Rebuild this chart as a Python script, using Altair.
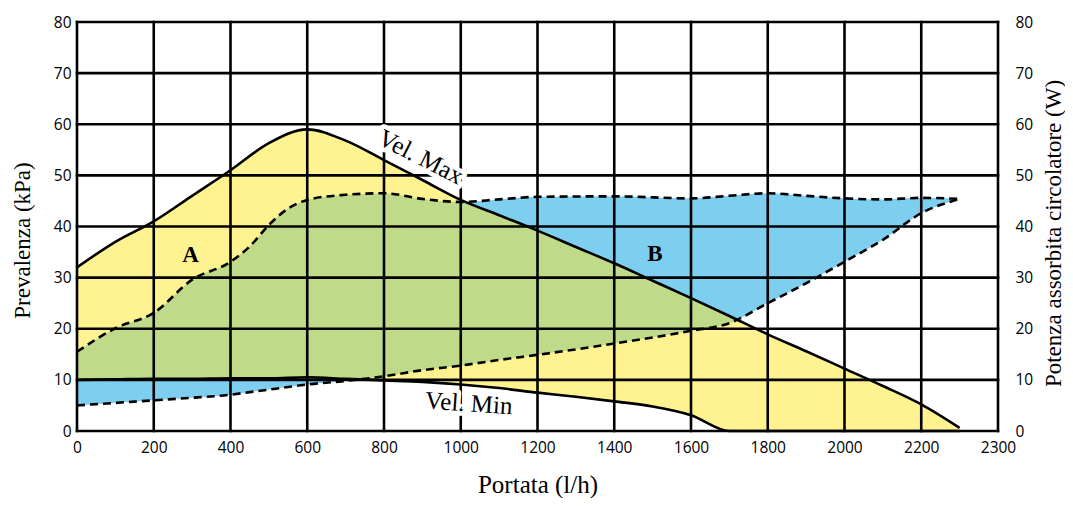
import altair as alt
import pandas as pd

# ---- data ----
# pressure curves (kPa, left axis)
p_flow = [0, 100, 200, 300, 400, 500, 600, 700, 800, 900, 1000, 1100, 1200, 1300,
          1400, 1500, 1600, 1700, 1800, 1900, 2000, 2100, 2200, 2250]
vel_max = [32.0, 37.0, 41.0, 46.0, 51.0, 56.3, 59.0, 56.8, 53.0, 49.1, 45.2, 42.2, 39.2, 36.0,
           32.8, 29.4, 26.0, 22.5, 18.9, 15.6, 12.2, 8.8, 5.2, 0.6]
vel_min = [10.0, 10.1, 10.2, 10.2, 10.3, 10.3, 10.5, 10.2, 9.9, 9.6, 9.1, 8.4, 7.5, 6.7,
           5.8, 4.8, 3.1, 0.0, 0.0, 0.0, 0.0, 0.0, 0.0, 0.0]

# absorbed power curves (W, right axis)
w_flow = [0, 100, 200, 300, 400, 450, 500, 550, 600, 700, 800, 900, 1000, 1100, 1200,
          1400, 1600, 1700, 1800, 1900, 2000, 2100, 2200, 2250]
w_max = [15.5, 20.1, 23.1, 29.6, 33.1, 36.1, 40.3, 43.5, 45.2, 46.2, 46.5, 45.4, 44.8, 45.3, 45.8,
         45.9, 45.5, 46.0, 46.5, 46.0, 45.5, 45.3, 45.6, 45.4]
w_min = [5.0, 5.5, 6.0, 6.5, 7.1, 7.6, 8.1, 8.6, 9.1, 9.8, 10.7, 11.9, 12.8, 13.9, 14.9,
         17.1, 19.6, 21.1, 25.0, 28.9, 33.1, 37.4, 42.6, 45.4]

x_ticks = [0, 200, 400, 600, 800, 1000, 1200, 1400, 1600, 1800, 2000, 2200, 2300]
y_ticks = [0, 10, 20, 30, 40, 50, 60, 70, 80]

zone_labels = ["A", "B"]
zone_x = [296, 1506]
zone_y = [34.5, 34.7]

curve_labels = ["Vel. Max", "Vel. Min"]
curve_x = [896, 1021]
curve_y = [53.6, 5.4]
curve_angle = [27, 4]

# ---- tables ----
press = pd.DataFrame({"flow": p_flow, "vmax": vel_max, "vmin": vel_min})
power = pd.DataFrame({"flow": w_flow, "wmax": w_max, "wmin": w_min})
vgrid = pd.DataFrame({"flow": x_ticks})
hgrid = pd.DataFrame({"val": y_ticks})
zones = pd.DataFrame({"flow": zone_x, "val": zone_y, "txt": zone_labels})
curves = pd.DataFrame({"flow": curve_x, "val": curve_y, "txt": curve_labels, "ang": curve_angle})

W, H = 921, 409
LABEL_FONT = "Open Sans"
TITLE_FONT = "Liberation Serif"

x_scale = alt.Scale(domain=[0, 2200, 2300], range=[0, W * 2200 / 2400, W], nice=False, zero=False)
y_scale = alt.Scale(domain=[0, 80], nice=False, zero=False)

x_axis = alt.Axis(values=x_ticks, format="d", ticks=False, domain=False, grid=False,
                  labelFlush=False, labelOverlap=False, labelPadding=9,
                  labelFont=LABEL_FONT, labelFontSize=15.5, labelColor="black",
                  titleFont=TITLE_FONT, titleFontSize=25, titleFontWeight="normal",
                  titleColor="black", titleY=53, titleBaseline="middle")
X = alt.X("flow:Q", scale=x_scale, axis=x_axis, title="Portata (l/h)")

left_axis = alt.Axis(values=y_ticks, ticks=False, domain=False, grid=False, labelFlush=False,
                     labelPadding=6, labelFont=LABEL_FONT, labelFontSize=15.5, labelColor="black",
                     titleFont=TITLE_FONT, titleFontSize=23, titleFontWeight="normal",
                     titleColor="black", titleAngle=270, titleX=-55, titleY=218,
                     titleAlign="center", titleBaseline="middle")
right_axis = alt.Axis(orient="right", values=y_ticks, ticks=False, domain=False, grid=False,
                      labelFlush=False, labelPadding=17, labelFont=LABEL_FONT, labelFontSize=15.5,
                      labelColor="black", titleFont=TITLE_FONT, titleFontSize=23,
                      titleFontWeight="normal", titleColor="black", titleAngle=270,
                      titleX=55, titleY=211, titleAlign="center", titleBaseline="middle")

blue_area = alt.Chart(power).mark_area(color="#7ECEF0", interpolate="monotone").encode(
    x=X,
    y=alt.Y("wmax:Q", scale=y_scale, axis=right_axis, title="Potenza assorbita circolatore (W)"),
    y2="wmin:Q",
)

yellow_area = alt.Chart(press).mark_area(color="#FFE723", opacity=0.5, interpolate="monotone").encode(
    x=X,
    y=alt.Y("vmax:Q", scale=y_scale, axis=left_axis, title="Prevalenza (kPa)"),
    y2="vmin:Q",
)

vrules = alt.Chart(vgrid).mark_rule(color="black", strokeWidth=2.6, strokeCap="square").encode(x=X)
hrules = alt.Chart(hgrid).mark_rule(color="black", strokeWidth=2.6, strokeCap="square").encode(
    y=alt.Y("val:Q", scale=y_scale, axis=None)
)

dash_max = alt.Chart(power).mark_line(color="black", strokeWidth=2.6, strokeDash=[8, 5],
                                      interpolate="monotone").encode(
    x=X, y=alt.Y("wmax:Q", scale=y_scale, axis=None))
dash_min = alt.Chart(power).mark_line(color="black", strokeWidth=2.6, strokeDash=[8, 5],
                                      interpolate="monotone").encode(
    x=X, y=alt.Y("wmin:Q", scale=y_scale, axis=None))

line_max = alt.Chart(press).mark_line(color="black", strokeWidth=2.6, interpolate="monotone").encode(
    x=X, y=alt.Y("vmax:Q", scale=y_scale, axis=None))
line_min = alt.Chart(press).mark_line(color="black", strokeWidth=2.6, interpolate="monotone").encode(
    x=X, y=alt.Y("vmin:Q", scale=y_scale, axis=None))

halo = alt.Chart(curves).mark_text(font=TITLE_FONT, fontSize=25, color="white", stroke="white",
                                   strokeWidth=9, strokeJoin="round", align="center",
                                   baseline="middle").encode(
    x=X, y=alt.Y("val:Q", scale=y_scale, axis=None), text="txt:N", angle=alt.Angle("ang:Q", scale=None))
curve_text = alt.Chart(curves).mark_text(font=TITLE_FONT, fontSize=25, color="black", align="center",
                                         baseline="middle").encode(
    x=X, y=alt.Y("val:Q", scale=y_scale, axis=None), text="txt:N", angle=alt.Angle("ang:Q", scale=None))

zone_text = alt.Chart(zones).mark_text(font=TITLE_FONT, fontSize=23, fontWeight="bold", color="black",
                                       align="center", baseline="middle").encode(
    x=X, y=alt.Y("val:Q", scale=y_scale, axis=None), text="txt:N")

chart = alt.layer(
    blue_area, yellow_area, vrules, hrules, dash_max, dash_min, line_max, line_min,
    halo, curve_text, zone_text,
).resolve_scale(y="independent").properties(
    width=W, height=H,
    autosize=alt.AutoSizeParams(type="none"),
    padding={"left": 69, "top": 14, "right": 67, "bottom": 67},
).configure_view(stroke=None).configure(background="white")

chart.save("out.html", embed_options={"renderer": "svg", "actions": False})
